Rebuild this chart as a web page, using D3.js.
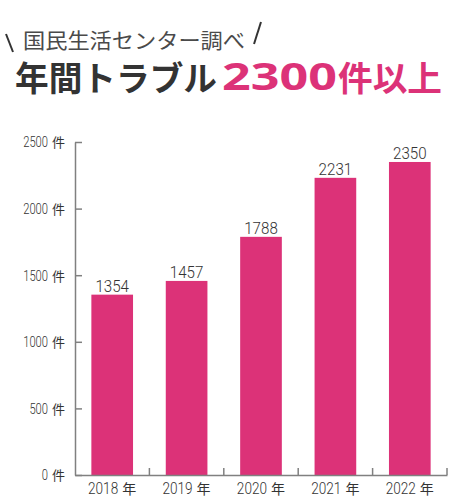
<!DOCTYPE html>
<html>
<head>
<meta charset="utf-8">
<script src="https://cdn.jsdelivr.net/npm/d3@7"></script>
<style>
  body { margin: 0; background: #fff; }
  svg { display: block; }
</style>
</head>
<body>
<div id="chart"></div>
<script>
const years = ["2018", "2019", "2020", "2021", "2022"];
const counts = [1354, 1457, 1788, 2231, 2350];
const yTicks = [0, 500, 1000, 1500, 2000, 2500];

const chartWidth = 460;
const chartHeight = 503;
const pink = "#dc3278";
const dark = "#333";
const axisGray = "#808080";
const numFont = "Roboto, sans-serif";
const jpFont = "'Noto Sans CJK JP', sans-serif";

var svg = d3.select("#chart").append("svg")
    .attr("width", chartWidth)
    .attr("height", chartHeight);

// heading
svg.append("line").attr("x1", 6).attr("y1", 34).attr("x2", 13).attr("y2", 52)
    .attr("stroke", dark).attr("stroke-width", 2);
svg.append("line").attr("x1", 261).attr("y1", 22).attr("x2", 254).attr("y2", 44)
    .attr("stroke", dark).attr("stroke-width", 2);
svg.append("text")
    .attr("x", 23).attr("y", 48)
    .attr("textLength", 222).attr("lengthAdjust", "spacingAndGlyphs")
    .style("font-family", jpFont).style("font-size", "21px")
    .style("fill", "#4a4a4a")
    .text("国民生活センター調べ");
svg.append("text")
    .attr("x", 15).attr("y", 91)
    .attr("textLength", 202).attr("lengthAdjust", "spacingAndGlyphs")
    .style("font-family", jpFont).style("font-size", "34px").style("font-weight", "bold")
    .style("fill", dark)
    .text("年間トラブル");
svg.append("text")
    .attr("x", 222).attr("y", 90)
    .attr("textLength", 115).attr("lengthAdjust", "spacingAndGlyphs")
    .style("font-family", "'Noto Sans', sans-serif").style("font-size", "38px").style("font-weight", "bold")
    .style("fill", pink)
    .text("2300");
svg.append("text")
    .attr("x", 338).attr("y", 91)
    .attr("textLength", 104).attr("lengthAdjust", "spacingAndGlyphs")
    .style("font-family", jpFont).style("font-size", "34px").style("font-weight", "bold")
    .style("fill", pink)
    .text("件以上");

// scales
var x = d3.scaleBand().domain(years).range([75, 447]).padding(0);
var y = d3.scaleLinear().domain([0, 2500]).range([475, 142]);
var barW = x.bandwidth() * 0.56;

// bars
svg.selectAll(".bar")
    .data(years)
    .enter()
    .append("rect")
    .attr("class", "bar")
    .attr("x", function(d) { return x(d) + (x.bandwidth() - barW) / 2; })
    .attr("y", function(d, i) { return y(counts[i]); })
    .attr("width", barW)
    .attr("height", function(d, i) { return y(0) - y(counts[i]); })
    .style("fill", pink);

// value labels (condensed digits)
svg.selectAll(".val")
    .data(years)
    .enter()
    .append("text")
    .attr("transform", function(d, i) {
        return "translate(" + (x(d) + x.bandwidth() / 2) + "," + (y(counts[i]) - 3) + ") scale(0.89,1)";
    })
    .attr("text-anchor", "middle")
    .style("font-family", numFont).style("font-size", "17px").style("font-weight", 300)
    .style("fill", dark)
    .text(function(d, i) { return counts[i]; });

// y axis
var yAxis = d3.axisLeft(y).tickValues(yTicks).tickSizeInner(-7).tickSizeOuter(0)
    .tickFormat(function(d) { return d; });
var gy = svg.append("g").attr("transform", "translate(75,0)").call(yAxis);
gy.select(".domain").attr("stroke", axisGray).attr("stroke-width", 1.5);
gy.selectAll(".tick line").attr("stroke", axisGray).attr("stroke-width", 1.5);
gy.selectAll(".tick text").remove();
gy.selectAll(".tick").each(function(d) {
    var t = d3.select(this);
    t.append("text")
        .attr("transform", "translate(-27,0) scale(0.8,1)")
        .attr("dy", "0.35em").attr("text-anchor", "end")
        .style("font-family", numFont).style("font-size", "14px").style("font-weight", 300)
        .style("fill", dark)
        .text(d);
    t.append("text")
        .attr("x", -23).attr("dy", "0.38em").attr("text-anchor", "start")
        .style("font-family", jpFont).style("font-size", "13px")
        .style("fill", dark)
        .text("件");
});

// x axis
var xAxis = d3.axisBottom(x).tickSize(0);
var gx = svg.append("g").attr("transform", "translate(0,475)").call(xAxis);
gx.select(".domain").attr("stroke", axisGray).attr("stroke-width", 1.5);
gx.selectAll(".tick text").remove();
gx.selectAll(".tick").each(function(d) {
    var t = d3.select(this);
    t.append("text")
        .attr("transform", "translate(6,19) scale(0.8,1)")
        .attr("text-anchor", "end")
        .style("font-family", numFont).style("font-size", "17px").style("font-weight", 300)
        .style("fill", dark)
        .text(d);
    t.append("text")
        .attr("x", 10).attr("y", 18.5).attr("text-anchor", "start")
        .style("font-family", jpFont).style("font-size", "14px")
        .style("fill", dark)
        .text("年");
});
// boundary ticks between categories
gx.selectAll(".sep")
    .data(years)
    .enter()
    .append("line")
    .attr("class", "sep")
    .attr("x1", function(d) { return x(d) + x.bandwidth(); })
    .attr("x2", function(d) { return x(d) + x.bandwidth(); })
    .attr("y1", 0).attr("y2", -7)
    .attr("stroke", axisGray).attr("stroke-width", 1.5);
</script>
</body>
</html>
